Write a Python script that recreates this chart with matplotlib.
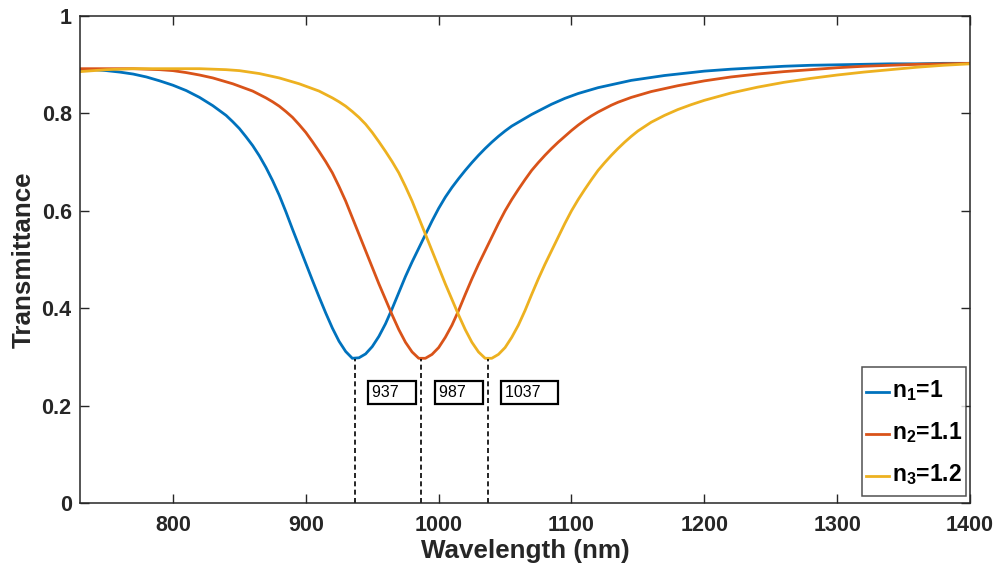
import matplotlib
matplotlib.use('Agg')
import matplotlib.pyplot as plt
from matplotlib.lines import Line2D
from matplotlib.legend_handler import HandlerLine2D

# wavelength grid (nm) and transmittance
wavelength = [730, 740, 750, 760, 770, 780, 790, 800, 810, 820, 830, 840,
              845, 850, 855, 860, 865, 870, 875, 880, 885, 890, 895, 900,
              905, 910, 915, 920, 925, 930, 935, 940, 945, 950, 955, 960,
              965, 970, 975, 980, 985, 990, 995, 1000, 1005, 1010, 1015, 1020,
              1025, 1030, 1035, 1040, 1045, 1050, 1055, 1060, 1065, 1070, 1075, 1080,
              1085, 1090, 1095, 1100, 1105, 1110, 1115, 1120, 1125, 1130, 1135, 1140,
              1145, 1150, 1155, 1160,
              1170, 1180, 1190, 1200,
              1220, 1240, 1260, 1280, 1300, 1320, 1340, 1360, 1380, 1400]

T_n1 = [0.890, 0.890, 0.888, 0.885, 0.881, 0.875, 0.867, 0.858, 0.847, 0.833, 0.816, 0.796,
        0.783, 0.769, 0.752, 0.734, 0.713, 0.689, 0.662, 0.632, 0.598, 0.562, 0.527, 0.492,
        0.457, 0.423, 0.390, 0.359, 0.332, 0.311, 0.297, 0.298, 0.306, 0.321, 0.342, 0.368,
        0.399, 0.432, 0.465, 0.495, 0.523, 0.551, 0.579, 0.605, 0.628, 0.648, 0.666, 0.683,
        0.699, 0.714, 0.728, 0.741, 0.753, 0.764, 0.774, 0.782, 0.790, 0.798, 0.805, 0.812,
        0.819, 0.825, 0.831, 0.836, 0.841, 0.845, 0.849, 0.853, 0.856, 0.859, 0.862, 0.865,
        0.868, 0.870, 0.872, 0.874,
        0.878, 0.881, 0.884, 0.887,
        0.891, 0.894, 0.897, 0.899, 0.900, 0.901, 0.902, 0.902, 0.903, 0.903]

T_n2 = [0.892, 0.892, 0.892, 0.892, 0.892, 0.891, 0.890, 0.888, 0.884, 0.879, 0.873, 0.865,
        0.861, 0.856, 0.851, 0.846, 0.839, 0.832, 0.824, 0.815, 0.804, 0.792, 0.777, 0.761,
        0.742, 0.722, 0.701, 0.678, 0.650, 0.620, 0.586, 0.552, 0.518, 0.484, 0.450, 0.418,
        0.386, 0.356, 0.330, 0.310, 0.297, 0.297, 0.305, 0.319, 0.340, 0.365, 0.395, 0.428,
        0.460, 0.490, 0.518, 0.546, 0.574, 0.600, 0.623, 0.644, 0.664, 0.683, 0.699, 0.714,
        0.728, 0.741, 0.753, 0.765, 0.776, 0.786, 0.795, 0.803, 0.810, 0.817, 0.823, 0.828,
        0.833, 0.837, 0.841, 0.845,
        0.851, 0.857, 0.862, 0.867,
        0.875, 0.881, 0.886, 0.890, 0.894, 0.897, 0.899, 0.901, 0.902, 0.903]

T_n3 = [0.886, 0.888, 0.890, 0.891, 0.892, 0.892, 0.892, 0.892, 0.892, 0.892, 0.891, 0.890,
        0.889, 0.888, 0.886, 0.884, 0.882, 0.879, 0.876, 0.873, 0.869, 0.865, 0.861, 0.856,
        0.851, 0.846, 0.839, 0.832, 0.824, 0.815, 0.804, 0.792, 0.778, 0.761, 0.742, 0.722,
        0.701, 0.678, 0.650, 0.620, 0.586, 0.552, 0.518, 0.484, 0.450, 0.418, 0.386, 0.356,
        0.330, 0.310, 0.297, 0.297, 0.305, 0.319, 0.340, 0.365, 0.395, 0.428, 0.460, 0.490,
        0.518, 0.546, 0.574, 0.600, 0.623, 0.644, 0.664, 0.683, 0.699, 0.714, 0.728, 0.741,
        0.753, 0.764, 0.773, 0.782,
        0.796, 0.808, 0.818, 0.827,
        0.842, 0.854, 0.864, 0.872, 0.879, 0.885, 0.890, 0.895, 0.899, 0.902]

labels = ['n$_1$=1', 'n$_2$=1.1', 'n$_3$=1.2']
peak_wl = [937, 987, 1037]
peak_T = [0.296, 0.296, 0.296]

plt.rcParams['font.family'] = 'Liberation Sans'
plt.rcParams['font.weight'] = 'bold'
plt.rcParams['mathtext.fontset'] = 'custom'
plt.rcParams['mathtext.rm'] = 'Liberation Sans:bold'
plt.rcParams['mathtext.it'] = 'Liberation Sans:bold'
plt.rcParams['mathtext.bf'] = 'Liberation Sans:bold'

colors = ['#0072BD', '#D95319', '#EDB120']
axis_col = '#262626'


class LowerLine(HandlerLine2D):
    # put the legend sample line a bit lower, level with the text
    def create_artists(self, legend, orig_handle, xdescent, ydescent, width, height, fontsize, trans):
        return super().create_artists(legend, orig_handle, xdescent, ydescent + 0.75 * fontsize,
                                      width, height, fontsize, trans)


fig = plt.figure(figsize=(10, 5.76), dpi=100)
ax = fig.add_axes([0.08, 0.127, 0.89, 0.845])

for T, c, lab in zip([T_n1, T_n2, T_n3], colors, labels):
    ax.plot(wavelength, T, color=c, lw=2, label=lab)

# dashed markers at the resonance dips
ax.vlines(peak_wl, 0, peak_T, colors='black', linestyles=(0, (3, 2)), lw=1.2)
for wl in peak_wl:
    ax.text(wl + 13, 0.226, f'{wl}   ', fontsize=11.5, fontweight='normal', ha='left', va='center',
            bbox=dict(boxstyle='square,pad=0.25', fc='white', ec='black', lw=1.6))

ax.set_xlim(730, 1400)
ax.set_ylim(0, 1)
ax.set_xticks(range(800, 1401, 100))
ax.set_yticks([0, 0.2, 0.4, 0.6, 0.8, 1])
ax.set_yticklabels(['0', '0.2', '0.4', '0.6', '0.8', '1'])
ax.tick_params(direction='in', length=6.5, width=1, top=True, right=True,
               labelsize=15.5, colors=axis_col, labelcolor=axis_col)
ax.tick_params(axis='x', pad=9)
ax.tick_params(axis='y', pad=6)
for s in ax.spines.values():
    s.set_color(axis_col)
    s.set_linewidth(1.1)

ax.set_xlabel('Wavelength (nm)', fontsize=18.7, fontweight='bold', color=axis_col, labelpad=2)
ax.set_ylabel('Transmittance', fontsize=18.7, fontweight='bold', color=axis_col, labelpad=4)

# tall rows, thin side padding, like the MATLAB legend box
leg = ax.legend(loc='lower right', bbox_to_anchor=(0.9955, 0.0144), fontsize=16.5, frameon=True,
                fancybox=False, handlelength=1.0, handleheight=2.15, handletextpad=0.15,
                labelspacing=0.19, borderaxespad=0, borderpad=0.15,
                handler_map={Line2D: LowerLine()})
leg.get_frame().set_edgecolor(axis_col)
leg.get_frame().set_linewidth(1.1)

fig.savefig('out.png', dpi=100)
